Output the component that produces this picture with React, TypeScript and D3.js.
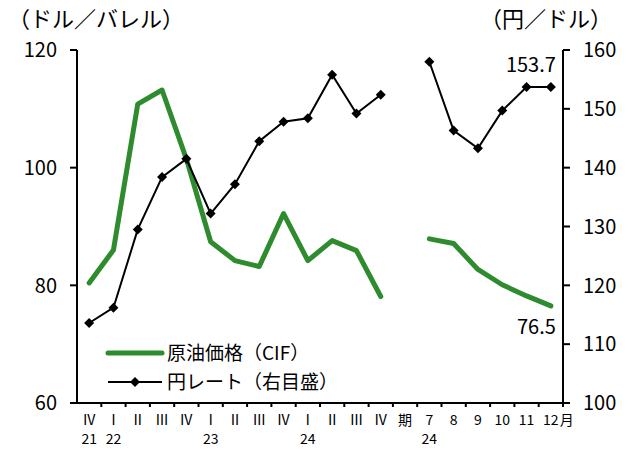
import * as d3 from "d3";
import { useEffect, useRef } from "react";

// quarterly section: 2021 IV .. 2024 IV
const quarterLabels = ["Ⅳ", "Ⅰ", "Ⅱ", "Ⅲ", "Ⅳ", "Ⅰ", "Ⅱ", "Ⅲ", "Ⅳ", "Ⅰ", "Ⅱ", "Ⅲ", "Ⅳ"];
const quarterYears = ["21", "22", "", "", "", "23", "", "", "", "24", "", "", ""];
const quarterOil = [80.4, 86.0, 110.8, 113.2, 101.5, 87.4, 84.2, 83.2, 92.2, 84.2, 87.6, 85.9, 78.1];
const quarterYen = [113.6, 116.2, 129.5, 138.4, 141.5, 132.2, 137.2, 144.5, 147.8, 148.4, 155.8, 149.2, 152.4];

// monthly section: 2024 Jul .. Dec
const monthLabels = ["7", "8", "9", "10", "11", "12"];
const monthYears = ["24", "", "", "", "", ""];
const monthOil = [87.9, 87.1, 82.7, 80.1, 78.2, 76.5];
const monthYen = [158.0, 146.3, 143.3, 149.7, 153.7, 153.7];

const leftTicks = [60, 80, 100, 120];
const rightTicks = [100, 110, 120, 130, 140, 150, 160];

const FONT = "'Noto Sans CJK JP', 'Noto Sans', sans-serif";
const GREEN = "#2e8b2e";

export default function App() {
  const svgRef = useRef<SVGSVGElement>(null);
  const width = 628;
  const height = 450;

  useEffect(() => {
    if (!svgRef.current) return;
    const svg = d3.select(svgRef.current);
    svg.selectAll("*").remove();

    const margin = { top: 50, left: 77, right: 65, bottom: 47 };
    const innerW = width - margin.left - margin.right;
    const innerH = height - margin.top - margin.bottom;

    // 13 quarters + blank slot (期) + 6 months
    const slots = [
      ...quarterLabels.map((_, i) => `q${i}`),
      "gap",
      ...monthLabels.map((_, i) => `m${i}`),
    ];
    const x = d3.scaleBand<string>().domain(slots).range([0, innerW]);
    const cx = (k: string) => (x(k) ?? 0) + x.bandwidth() / 2;
    const yL = d3.scaleLinear().domain([60, 120]).range([innerH, 0]);
    const yR = d3.scaleLinear().domain([100, 160]).range([innerH, 0]);

    const g = svg.append("g").attr("transform", `translate(${margin.left},${margin.top})`);

    // axis titles
    svg.append("text").attr("x", 8).attr("y", 27)
      .style("font-family", FONT).style("font-size", "22px").text("（ドル／バレル）");
    svg.append("text").attr("x", 480).attr("y", 27)
      .style("font-family", FONT).style("font-size", "22px").text("（円／ドル）");

    // left axis
    g.append("line").attr("x1", 0).attr("x2", 0).attr("y1", 0).attr("y2", innerH)
      .attr("stroke", "#000").attr("stroke-width", 2);
    leftTicks.forEach((t) => {
      g.append("line").attr("x1", -7).attr("x2", 0).attr("y1", yL(t)).attr("y2", yL(t))
        .attr("stroke", "#000").attr("stroke-width", 2);
      g.append("text").attr("x", -20).attr("y", yL(t)).attr("dy", "0.36em")
        .attr("text-anchor", "end").style("font-family", FONT).style("font-size", "20px")
        .text(t);
    });

    // right axis
    g.append("line").attr("x1", innerW).attr("x2", innerW).attr("y1", 0).attr("y2", innerH + 4)
      .attr("stroke", "#000").attr("stroke-width", 2);
    rightTicks.forEach((t) => {
      g.append("line").attr("x1", innerW).attr("x2", innerW + 7).attr("y1", yR(t)).attr("y2", yR(t))
        .attr("stroke", "#000").attr("stroke-width", 2);
      g.append("text").attr("x", innerW + 20).attr("y", yR(t)).attr("dy", "0.36em")
        .style("font-family", FONT).style("font-size", "20px").text(t);
    });

    // bottom axis
    g.append("line").attr("x1", 0).attr("x2", innerW).attr("y1", innerH).attr("y2", innerH)
      .attr("stroke", "#000").attr("stroke-width", 2);
    slots.forEach((s, i) => {
      if (i === 0) return;
      const bx = x(s) ?? 0;
      g.append("line").attr("x1", bx).attr("x2", bx).attr("y1", innerH).attr("y2", innerH + 4)
        .attr("stroke", "#000").attr("stroke-width", 2);
    });

    const label = (xx: number, yy: number, txt: string) =>
      g.append("text").attr("x", xx).attr("y", yy).attr("text-anchor", "middle")
        .style("font-family", FONT).style("font-size", "14px").text(txt);

    quarterLabels.forEach((l, i) => {
      label(cx(`q${i}`), innerH + 22, l);
      if (quarterYears[i]) label(cx(`q${i}`), innerH + 41, quarterYears[i]);
    });
    label(cx("gap"), innerH + 22, "期");
    monthLabels.forEach((l, i) => {
      label(cx(`m${i}`), innerH + 22, l);
      if (monthYears[i]) label(cx(`m${i}`), innerH + 41, monthYears[i]);
    });
    label(cx(`m${monthLabels.length - 1}`) + 16, innerH + 22, "月");

    // series
    const oilLine = d3.line<[string, number]>().x((d) => cx(d[0])).y((d) => yL(d[1]));
    const yenLine = d3.line<[string, number]>().x((d) => cx(d[0])).y((d) => yR(d[1]));

    const qOil = quarterOil.map((v, i) => [`q${i}`, v] as [string, number]);
    const mOil = monthOil.map((v, i) => [`m${i}`, v] as [string, number]);
    const qYen = quarterYen.map((v, i) => [`q${i}`, v] as [string, number]);
    const mYen = monthYen.map((v, i) => [`m${i}`, v] as [string, number]);

    [qOil, mOil].forEach((seg) => {
      g.append("path").datum(seg).attr("d", oilLine).attr("fill", "none")
        .attr("stroke", GREEN).attr("stroke-width", 5).attr("stroke-linejoin", "round")
        .attr("stroke-linecap", "round");
    });

    const diamond = d3.symbol().type(d3.symbolDiamond2).size(64);
    [qYen, mYen].forEach((seg) => {
      g.append("path").datum(seg).attr("d", yenLine).attr("fill", "none")
        .attr("stroke", "#000").attr("stroke-width", 2);
      g.selectAll(null).data(seg).enter().append("path")
        .attr("d", diamond)
        .attr("transform", (d) => `translate(${cx(d[0])},${yR(d[1])})`)
        .attr("fill", "#000");
    });

    // end-value annotations
    const lastM = `m${monthLabels.length - 1}`;
    g.append("text").attr("x", cx(lastM) + 5).attr("y", yR(monthYen[monthYen.length - 1]) - 22)
      .attr("text-anchor", "end").attr("dy", "0.36em")
      .style("font-family", FONT).style("font-size", "20px")
      .text(monthYen[monthYen.length - 1].toFixed(1));
    g.append("text").attr("x", cx(lastM) + 5).attr("y", yL(monthOil[monthOil.length - 1]) + 21)
      .attr("text-anchor", "end").attr("dy", "0.36em")
      .style("font-family", FONT).style("font-size", "20px")
      .text(monthOil[monthOil.length - 1].toFixed(1));

    // legend
    const lg = svg.append("g");
    lg.append("line").attr("x1", 108).attr("x2", 162).attr("y1", 353).attr("y2", 353)
      .attr("stroke", GREEN).attr("stroke-width", 5).attr("stroke-linecap", "round");
    lg.append("text").attr("x", 167).attr("y", 353).attr("dy", "0.36em")
      .style("font-family", FONT).style("font-size", "19px").text("原油価格（CIF）");
    lg.append("line").attr("x1", 108).attr("x2", 162).attr("y1", 382).attr("y2", 382)
      .attr("stroke", "#000").attr("stroke-width", 2);
    lg.append("path").attr("d", diamond).attr("transform", "translate(135,382)").attr("fill", "#000");
    lg.append("text").attr("x", 167).attr("y", 382).attr("dy", "0.36em")
      .style("font-family", FONT).style("font-size", "19px").text("円レート（右目盛）");
  }, []);

  return (
    <svg
      ref={svgRef}
      width={width}
      height={height}
      style={{ position: "absolute", left: 0, top: 0, background: "#fff" }}
    />
  );
}
